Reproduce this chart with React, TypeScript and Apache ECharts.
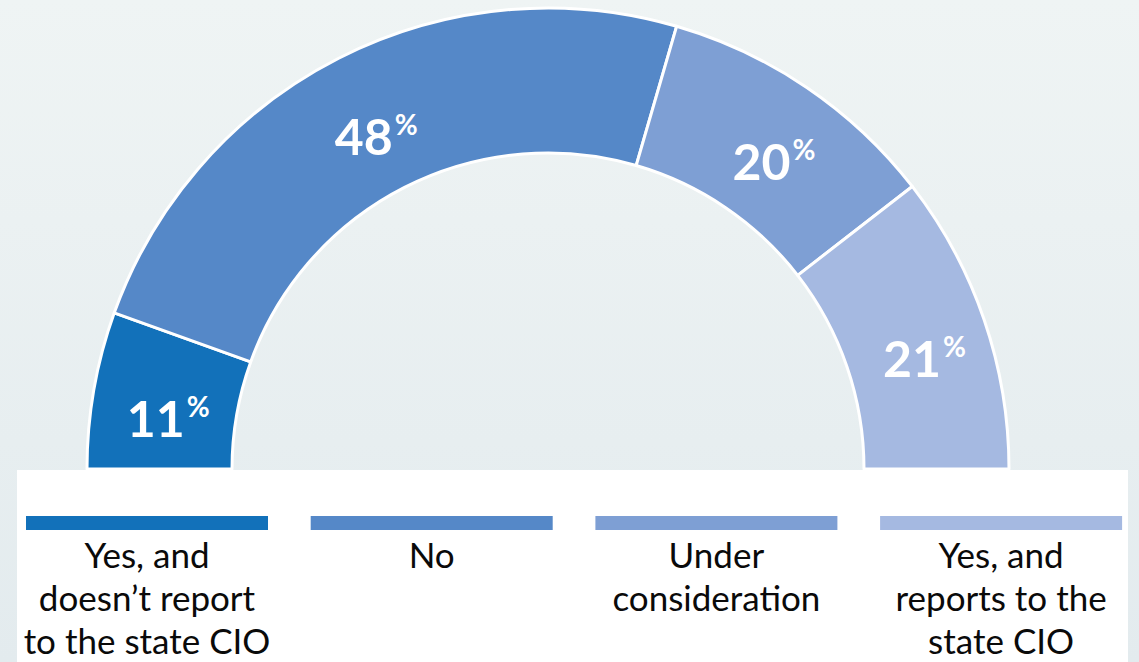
import React, { useEffect, useRef } from "react";
import * as echarts from "echarts";

const categories = [
  "Yes, and\ndoesn’t report\nto the state CIO",
  "No",
  "Under\nconsideration",
  "Yes, and\nreports to the\nstate CIO",
];
const values = [11, 48, 20, 21];
const colors = ["#1271BA", "#5588C8", "#7E9FD4", "#A5B9E1"];

export default function App() {
  const ref = useRef<HTMLDivElement>(null);
  useEffect(() => {
    if (!ref.current) return;
    const chart = echarts.init(ref.current, undefined, { renderer: "svg" });
    const legendGraphics: any[] = [];
    categories.forEach((c, i) => {
      const x0 = 26 + i * 284.7;
      legendGraphics.push({
        type: "rect",
        shape: { x: x0, y: 516, width: 242, height: 14 },
        style: { fill: colors[i] },
        z: 1,
      });
      legendGraphics.push({
        type: "text",
        x: x0 + 121,
        y: 532,
        style: {
          text: c,
          fill: "#0A0A0A",
          fontFamily: "Lato",
          fontSize: 35,
          textAlign: "center",
          textVerticalAlign: "top",
          lineHeight: 43,
        },
        z: 1,
      });
    });
    chart.setOption({
      animation: false,
      backgroundColor: {
        type: "linear",
        x: 0,
        y: 0,
        x2: 0,
        y2: 1,
        colorStops: [
          { offset: 0, color: "#EFF4F4" },
          { offset: 1, color: "#E3EBEE" },
        ],
      },
      graphic: [
        {
          type: "rect",
          shape: { x: 17, y: 470, width: 1111, height: 200 },
          style: { fill: "#FFFFFF" },
          z: 0,
        },
        ...legendGraphics,
      ],
      series: [
        {
          type: "pie",
          center: [548, 469],
          radius: [316, 461],
          startAngle: 180,
          endAngle: 0,
          clockwise: true,
          silent: true,
          avoidLabelOverlap: false,
          itemStyle: { borderColor: "#FFFFFF", borderWidth: 3 },
          label: {
            show: true,
            position: "inside",
            offset: [6, 16],
            formatter: (p: any) => `{v|${p.value}}{p|%}`,
            rich: {
              v: {
                fontFamily: "Lato",
                fontWeight: "bold",
                fontSize: 50,
                color: "#fff",
                lineHeight: 52,
              },
              p: {
                fontFamily: "Lato",
                fontWeight: "bold",
                fontSize: 28,
                color: "#fff",
                verticalAlign: "top",
                lineHeight: 52,
                padding: [0, 0, 20, 2],
              },
            },
          },
          labelLine: { show: false },
          data: categories.map((c, i) => ({
            name: c,
            value: values[i],
            itemStyle: { color: colors[i] },
          })),
        },
      ],
    });
    return () => chart.dispose();
  }, []);
  return (
    <div
      ref={ref}
      style={{ position: "absolute", left: 0, top: 0, width: 1139, height: 662 }}
    />
  );
}
